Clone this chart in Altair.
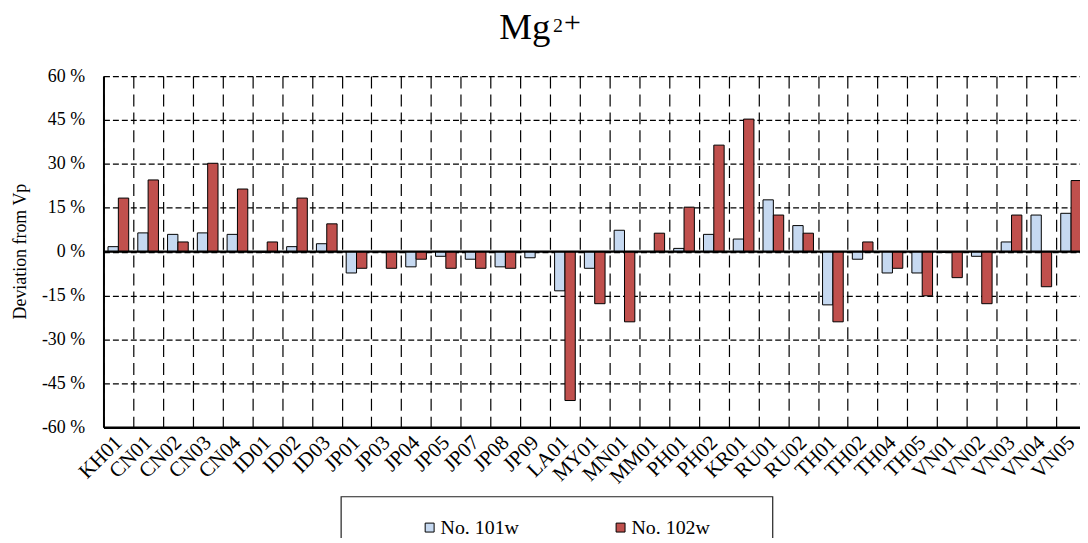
import altair as alt
import pandas as pd

sites = ["KH01", "CN01", "CN02", "CN03", "CN04", "ID01", "ID02", "ID03", "JP01", "JP03",
         "JP04", "JP05", "JP07", "JP08", "JP09", "LA01", "MY01", "MN01", "MM01", "PH01",
         "PH02", "KR01", "RU01", "RU02", "TH01", "TH02", "TH04", "TH05", "VN01", "VN02",
         "VN03", "VN04", "VN05"]
no101w = [1.7, 6.4, 5.9, 6.4, 5.9, -0.3, 1.7, 2.7, -7.3, None,
          -5.2, -1.6, -2.6, -5.2, -2.1, -13.4, -5.7, 7.3, None, 1.1,
          5.9, 4.3, 17.7, 8.9, -18.2, -2.6, -7.3, -7.3, -0.3, -1.6,
          3.3, 12.5, 13.1]
no102w = [18.3, 24.5, 3.3, 30.2, 21.4, 3.3, 18.3, 9.5, -5.7, -5.7,
          -2.6, -5.7, -5.7, -5.7, None, -50.9, -17.8, -24.0, 6.3, 15.2,
          36.4, 45.3, 12.5, 6.3, -24.0, 3.3, -5.7, -15.1, -8.9, -17.8,
          12.5, -12.0, 24.3]
series = ["No. 101w", "No. 102w"]
colors = ["#c6d9f1", "#c0504d"]
y_ticks = [-60, -45, -30, -15, 0, 15, 30, 45, 60]

rows = []
for s, a, b in zip(sites, no101w, no102w):
    if a is not None:
        rows.append({"site": s, "series": series[0], "value": a})
    if b is not None:
        rows.append({"site": s, "series": series[1], "value": b})
df = pd.DataFrame(rows)

FONT = "Liberation Serif"

x_enc = alt.X(
    "site:N", sort=sites,
    scale=alt.Scale(range=[0, 988], paddingInner=0, paddingOuter=0),
    axis=alt.Axis(
        title=None, grid=True, tickBand="extent", ticks=False, tickSize=0,
        gridColor="black", gridDash=[12, 6], gridWidth=1.2,
        domainColor="black", domainWidth=2.5,
        labelAngle=315, labelAlign="right", labelBaseline="middle",
        labelFont=FONT, labelFontSize=21, labelColor="black", labelPadding=12,
        labelOverlap=False,
    ),
)
y_enc = alt.Y(
    "value:Q",
    scale=alt.Scale(domain=[-60, 60], nice=False, zero=False),
    axis=alt.Axis(
        values=y_ticks, labelExpr="datum.value + ' %'",
        grid=True, gridColor="black", gridDash=[6, 3], gridWidth=1.2,
        ticks=False, tickSize=0, domainColor="black", domainWidth=2,
        labelFont=FONT, labelFontSize=18, labelColor="black", labelPadding=19,
        title="Deviation from Vp", titleFont=FONT, titleFontSize=18,
        titleFontWeight="normal", titleColor="black",
        titleAngle=270, titleX=-83, titleY=176, titleAlign="center",
        titleBaseline="middle",
    ),
)

bars = alt.Chart(df).mark_bar(stroke="black", strokeWidth=1).encode(
    x=x_enc,
    y=y_enc,
    xOffset=alt.XOffset("series:N", sort=series,
                        scale=alt.Scale(paddingInner=0, paddingOuter=0.44)),
    color=alt.Color(
        "series:N", sort=series,
        scale=alt.Scale(domain=series, range=colors),
        legend=alt.Legend(
            orient="none", legendX=318, legendY=444, direction="horizontal",
            title=None, symbolType="square", symbolSize=81,
            symbolStrokeColor="black", symbolStrokeWidth=1,
            labelFont=FONT, labelFontSize=20, labelColor="black",
            labelOffset=1, columnPadding=92, padding=0,
        ),
    ),
)

zero = alt.Chart(pd.DataFrame({"v": [0]})).mark_rule(color="black", strokeWidth=2.2).encode(
    y=alt.Y("v:Q")
)

legend_box = alt.Chart(pd.DataFrame({"v": [0]})).mark_rect(
    fill=None, stroke="#222222", strokeWidth=1.2
).encode(
    x=alt.value(239), x2=alt.value(673), y=alt.value(423), y2=alt.value(480)
)

t_main = alt.Chart(pd.DataFrame({"t": ["Mg"]})).mark_text(
    font=FONT, fontSize=37, align="left", baseline="alphabetic", color="black"
).encode(text="t:N", x=alt.value(398), y=alt.value(-37))
t_sup = alt.Chart(pd.DataFrame({"t": ["2"]})).mark_text(
    font=FONT, fontSize=20, align="left", baseline="alphabetic", color="black"
).encode(text="t:N", x=alt.value(452), y=alt.value(-44))
t_plus = alt.Chart(pd.DataFrame({"t": ["+"]})).mark_text(
    font=FONT, fontSize=30, align="left", baseline="alphabetic", color="black"
).encode(text="t:N", x=alt.value(463), y=alt.value(-44))

chart = alt.layer(bars, zero, legend_box, t_main, t_sup, t_plus).properties(
    width=982, height=353,
    autosize=alt.AutoSizeParams(type="none"),
    padding={"left": 96, "top": 67, "right": 0, "bottom": 110},
).configure_view(stroke=None)

chart.save("out.html", embed_options={"renderer": "svg", "actions": False})
